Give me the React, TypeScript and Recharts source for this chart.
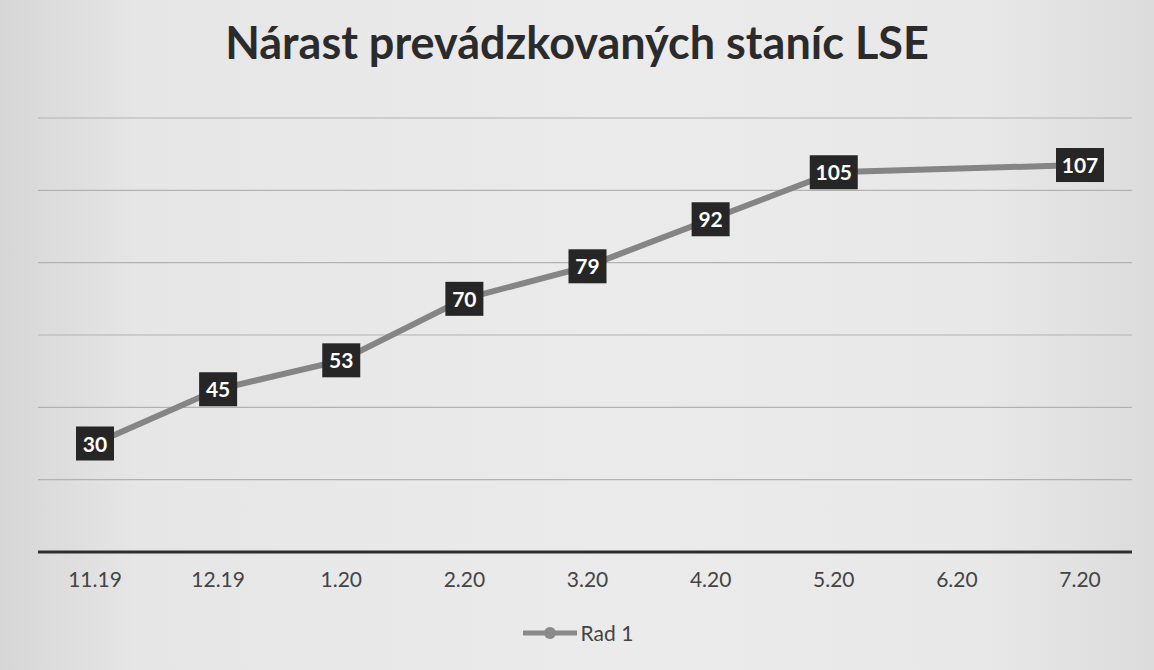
import { LineChart, Line, XAxis, YAxis, CartesianGrid, LabelList } from "recharts";

const months = ["11.19", "12.19", "1.20", "2.20", "3.20", "4.20", "5.20", "6.20", "7.20"];
const stations: (number | null)[] = [30, 45, 53, 70, 79, 92, 105, null, 107];
const yTicks = [0, 20, 40, 60, 80, 100, 120];

const data = months.map((m, i) => ({ name: m, value: stations[i] }));

const FONT = "Lato, 'Open Sans', sans-serif";

// dark box with white number, drawn over each point
const ValueBox = (props: any) => {
  const { x, y, value } = props;
  if (value == null) return null;
  const w = String(value).length > 2 ? 48 : 38;
  const h = 34;
  return (
    <g>
      <rect x={x - w / 2} y={y - h / 2} width={w} height={h} fill="#262626" />
      <text x={x} y={y + 8} textAnchor="middle" fill="#fff" fontSize={21} fontWeight={700} fontFamily={FONT}>
        {value}
      </text>
    </g>
  );
};

export default function App() {
  return (
    <div
      style={{
        position: "absolute",
        left: 0,
        top: 0,
        width: 1154,
        height: 670,
        background: "linear-gradient(90deg, #d6d6d6 0%, #e6e6e6 12%, #ebebeb 55%, #e8e8e8 85%, #dcdcdc 100%)",
      }}
    >
      <div
        style={{
          position: "absolute",
          top: 15,
          width: "100%",
          textAlign: "center",
          fontFamily: FONT,
          fontWeight: 700,
          fontSize: 45,
          color: "#2b2b2b",
        }}
      >
        Nárast prevádzkovaných staníc LSE
      </div>
      <LineChart width={1154} height={670} data={data} margin={{ top: 118, right: 22, bottom: 68, left: 38 }}>
        <CartesianGrid vertical={false} stroke="#b2b2b2" strokeWidth={1.2} />
        <YAxis hide domain={[0, 120]} ticks={yTicks} />
        <XAxis
          dataKey="name"
          axisLine={{ stroke: "#2e2e2e", strokeWidth: 3 }}
          tickLine={false}
          tick={{ fill: "#444", fontSize: 21, fontFamily: FONT }}
          tickMargin={14}
          height={50}
          padding={{ left: 57, right: 52 }}
        />
        <Line
          dataKey="value"
          stroke="#858585"
          strokeWidth={6}
          connectNulls
          dot={{ r: 15, fill: "#7c7c7c", stroke: "none" }}
          activeDot={false}
          isAnimationActive={false}
        >
          <LabelList dataKey="value" content={ValueBox} />
        </Line>
      </LineChart>
      <div
        style={{
          position: "absolute",
          top: 620,
          width: "100%",
          display: "flex",
          justifyContent: "center",
          alignItems: "center",
          fontFamily: FONT,
          fontSize: 21,
          color: "#444",
        }}
      >
        <svg width={58} height={14}>
          <line x1={2} y1={7} x2={56} y2={7} stroke="#8a8a8a" strokeWidth={5} />
          <circle cx={29} cy={7} r={6} fill="#8a8a8a" />
        </svg>
        <span style={{ marginLeft: 2 }}>Rad 1</span>
      </div>
    </div>
  );
}
